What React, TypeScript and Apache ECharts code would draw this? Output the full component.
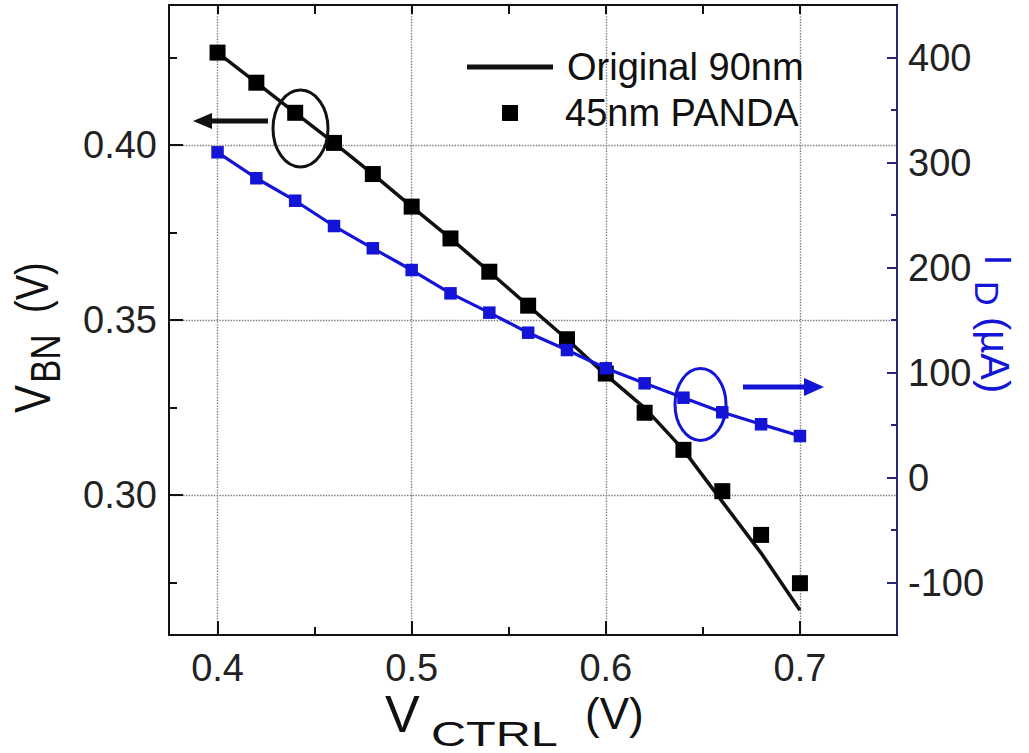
import React, { useEffect, useRef } from 'react';
import * as echarts from 'echarts';

// ---- data ----
const xVals = [0.40, 0.42, 0.44, 0.46, 0.48, 0.50, 0.52, 0.54, 0.56, 0.58, 0.60, 0.62, 0.64, 0.66, 0.68, 0.70];
// V_BN of the 45nm PANDA (black squares, left axis)
const vbnPanda = [0.4264, 0.4178, 0.4092, 0.4006, 0.3917, 0.3824, 0.3733, 0.3638, 0.3541, 0.3445, 0.3347, 0.3235, 0.3129, 0.3011, 0.2886, 0.2748];
// V_BN of the original 90nm design (black line, left axis)
const vbnOriginal = [0.4264, 0.4178, 0.4092, 0.4006, 0.3917, 0.3824, 0.3733, 0.3638, 0.3541, 0.3445, 0.3343, 0.3249, 0.3129, 0.2981, 0.2834, 0.2671];
// I_D in µA (blue, right axis)
const idPanda = [309.7, 285, 263.6, 239.5, 218.3, 197.6, 175.4, 157, 137.9, 121.4, 104, 89.7, 76, 62.1, 50.7, 39.5];

const xMajor = [0.4, 0.5, 0.6, 0.7];
const xMinor = [0.45, 0.55, 0.65];
const xTop = [0.4, 0.45, 0.5, 0.55, 0.6, 0.65, 0.7];
const yLeftMajor = [0.30, 0.35, 0.40];
const yLeftMinor = [0.275, 0.325, 0.375, 0.425];
const yRightMajor = [-100, 0, 100, 200, 300, 400];
const yRightMinor = [-50, 50, 150, 250, 350];

const legendNames = ['Original 90nm', '45nm PANDA'];

const FONT = '"Liberation Sans", Arial, Helvetica, sans-serif';
const INK = '#111111';
const NAVY = '#25257a';
const BLUE = '#1414d6';

const X_MIN = 0.375, X_MAX = 0.75;
const YL_MIN = 0.26, YL_MAX = 0.44;
const YR_MIN = -150, YR_MAX = 450;

// text placed by its baseline: 'middle' alignment puts the glyph centre ~0.35em above baseline
const base = (y: number, fs: number, s = 1) => y - 0.35 * fs * s;

export default function App() {
  const ref = useRef<HTMLDivElement>(null);

  useEffect(() => {
    if (!ref.current) return;
    const chart = echarts.init(ref.current, undefined, { renderer: 'svg' });

    const gridPos = { left: 169, right: 132, top: 5, bottom: 118 };
    const tickLabel = { fontSize: 38, color: '#222', fontFamily: FONT };
    const txt = (text: string, fs: number, fill: string, extra: any = {}) => ({
      text, fontSize: fs, fontFamily: FONT, fill, verticalAlign: 'middle', align: 'left', ...extra,
    });

    const option: any = {
      animation: false,
      backgroundColor: '#ffffff',
      grid: [
        { ...gridPos },
        { ...gridPos },
      ],
      xAxis: [
        {
          gridIndex: 0, type: 'value', position: 'bottom', min: X_MIN, max: X_MAX,
          axisLine: { show: true, onZero: false, lineStyle: { color: INK, width: 2 } },
          axisTick: { show: true, inside: true, length: 14, customValues: xMajor, lineStyle: { color: INK, width: 2 } },
          axisLabel: { show: true, customValues: xMajor, formatter: (v: number) => v.toFixed(1), margin: 14, ...tickLabel },
          splitLine: { show: true, lineStyle: { color: '#7a7a7a', type: 'dotted', width: 1.4 } },
        },
        {
          gridIndex: 0, type: 'value', position: 'top', min: X_MIN, max: X_MAX,
          axisLine: { show: true, onZero: false, lineStyle: { color: INK, width: 2 } },
          axisTick: { show: true, inside: true, length: 9, customValues: xTop, lineStyle: { color: INK, width: 2 } },
          axisLabel: { show: false },
          splitLine: { show: false },
        },
        {
          gridIndex: 1, type: 'value', position: 'bottom', min: X_MIN, max: X_MAX,
          axisLine: { show: false, onZero: false },
          axisTick: { show: true, inside: true, length: 8, customValues: xMinor, lineStyle: { color: INK, width: 2 } },
          axisLabel: { show: false },
          splitLine: { show: false },
        },
      ],
      yAxis: [
        {
          gridIndex: 0, type: 'value', position: 'left', min: YL_MIN, max: YL_MAX,
          axisLine: { show: true, onZero: false, lineStyle: { color: INK, width: 2 } },
          axisTick: { show: true, inside: true, length: 14, customValues: yLeftMajor, lineStyle: { color: INK, width: 2 } },
          axisLabel: { show: true, customValues: yLeftMajor, formatter: (v: number) => v.toFixed(2), margin: 12, ...tickLabel },
          splitLine: { show: true, lineStyle: { color: '#7a7a7a', type: 'dotted', width: 1.4 } },
        },
        {
          gridIndex: 0, type: 'value', position: 'right', min: YR_MIN, max: YR_MAX,
          axisLine: { show: true, onZero: false, lineStyle: { color: NAVY, width: 2 } },
          axisTick: { show: true, inside: true, length: 10, customValues: yRightMajor, lineStyle: { color: NAVY, width: 2 } },
          axisLabel: { show: true, customValues: yRightMajor, formatter: (v: number) => String(v), margin: 11, ...tickLabel },
          splitLine: { show: false },
        },
        {
          gridIndex: 1, type: 'value', position: 'left', min: YL_MIN, max: YL_MAX,
          axisLine: { show: false, onZero: false },
          axisTick: { show: true, inside: true, length: 8, customValues: yLeftMinor, lineStyle: { color: INK, width: 2 } },
          axisLabel: { show: false },
          splitLine: { show: false },
        },
        {
          gridIndex: 1, type: 'value', position: 'right', min: YR_MIN, max: YR_MAX,
          axisLine: { show: false, onZero: false },
          axisTick: { show: true, inside: true, length: 6, customValues: yRightMinor, lineStyle: { color: NAVY, width: 2 } },
          axisLabel: { show: false },
          splitLine: { show: false },
        },
      ],
      series: [
        {
          name: legendNames[0], type: 'line', xAxisIndex: 0, yAxisIndex: 0,
          data: xVals.map((x, i) => [x, vbnOriginal[i]]),
          symbol: 'none', showSymbol: false,
          lineStyle: { color: INK, width: 3.5 }, z: 3,
        },
        {
          name: legendNames[1], type: 'scatter', xAxisIndex: 0, yAxisIndex: 0,
          data: xVals.map((x, i) => [x, vbnPanda[i]]),
          symbol: 'rect', symbolSize: 16,
          itemStyle: { color: '#000000', opacity: 1 }, z: 4,
        },
        {
          name: 'I_D', type: 'line', xAxisIndex: 0, yAxisIndex: 1,
          data: xVals.map((x, i) => [x, idPanda[i]]),
          symbol: 'rect', symbolSize: 12.5, showSymbol: true,
          lineStyle: { color: BLUE, width: 3.2 },
          itemStyle: { color: BLUE, opacity: 1 }, z: 5,
        },
      ],
      graphic: [
        // legend
        { type: 'line', shape: { x1: 467, y1: 67, x2: 553, y2: 67 }, style: { stroke: INK, lineWidth: 5 }, z: 10 },
        { type: 'text', x: 567, y: 67, style: txt(legendNames[0], 38, INK), z: 10 },
        { type: 'rect', shape: { x: 502, y: 105, width: 16, height: 16 }, style: { fill: '#000' }, z: 10 },
        { type: 'text', x: 565, y: 113, style: txt(legendNames[1], 38, INK), z: 10 },
        // black ellipse + arrow (left axis)
        { type: 'ellipse', shape: { cx: 300.5, cy: 128.5, rx: 27.5, ry: 38.5 }, style: { fill: 'none', stroke: INK, lineWidth: 3 }, z: 10 },
        { type: 'line', shape: { x1: 268, y1: 121, x2: 205, y2: 121 }, style: { stroke: INK, lineWidth: 5 }, z: 10 },
        { type: 'polygon', shape: { points: [[193, 121], [212, 113], [212, 129]] }, style: { fill: INK }, z: 10 },
        // blue ellipse + arrow (right axis)
        { type: 'ellipse', shape: { cx: 700.5, cy: 404.5, rx: 25.5, ry: 36 }, style: { fill: 'none', stroke: BLUE, lineWidth: 3 }, z: 10 },
        { type: 'line', shape: { x1: 743, y1: 387, x2: 806, y2: 387 }, style: { stroke: BLUE, lineWidth: 5 }, z: 10 },
        { type: 'polygon', shape: { points: [[824, 387], [804, 378], [804, 396]] }, style: { fill: BLUE }, z: 10 },
        // x axis title
        { type: 'text', x: 385, y: base(732, 52), style: txt('V', 52, INK), z: 10 },
        { type: 'text', x: 431, y: base(746, 36), scaleX: 1.35, style: txt('CTRL', 36, INK), z: 10 },
        { type: 'text', x: 585, y: base(729, 44), style: txt('(V)', 44, INK), z: 10 },
        // left y title (reads bottom to top)
        {
          type: 'group', x: 50, y: 413, rotation: Math.PI / 2, z: 10,
          children: [
            { type: 'text', x: 0, y: base(0, 42, 1.2), scaleY: 1.2, style: txt('V', 42, INK) },
            { type: 'text', x: 30, y: base(10, 35, 1.2), scaleY: 1.2, style: txt('BN', 35, INK) },
            { type: 'text', x: 100, y: base(-2, 38, 1.2), scaleY: 1.2, style: txt('(V)', 38, INK) },
          ],
        },
        // right y title (reads top to bottom)
        {
          type: 'group', x: 985, y: 255, rotation: -Math.PI / 2, z: 10,
          children: [
            { type: 'text', x: 0, y: base(0, 36), style: txt('I', 36, BLUE) },
            { type: 'text', x: 26, y: base(10, 34), style: txt('D', 34, BLUE) },
            { type: 'text', x: 62, y: base(4, 40), style: txt('(µA)', 40, BLUE) },
          ],
        },
      ],
    };

    chart.setOption(option);
    return () => chart.dispose();
  }, []);

  return (
    <div
      ref={ref}
      style={{ position: 'absolute', left: 0, top: 0, width: 1029, height: 753, background: '#fff' }}
    />
  );
}
